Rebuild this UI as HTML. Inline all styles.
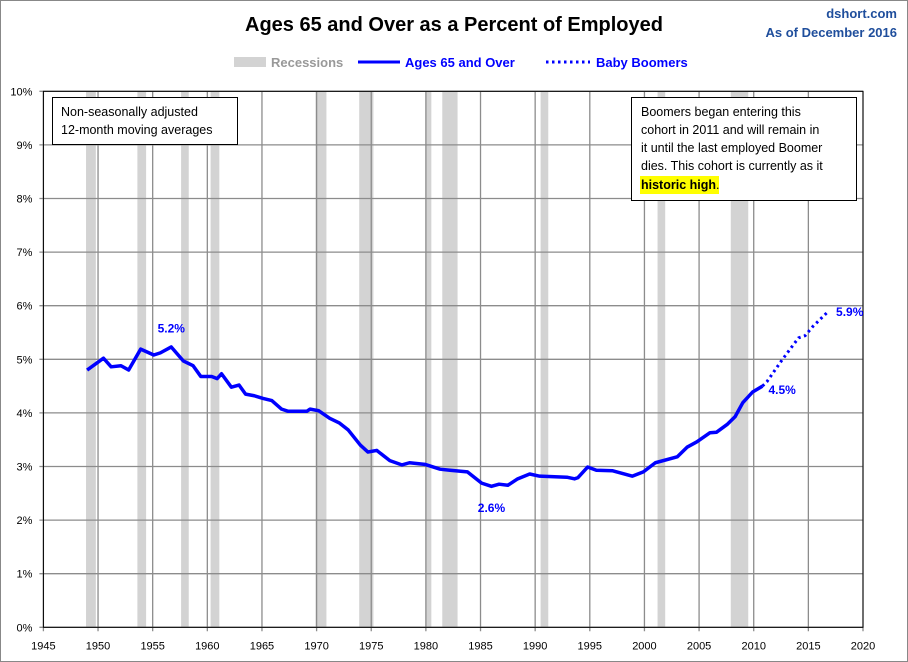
<!DOCTYPE html>
<html><head><meta charset="utf-8"><style>
body{margin:0;background:#fff;}
svg{display:block;font-family:"Liberation Sans",sans-serif;}
</style></head><body>
<svg id="chart" width="908" height="662">
<rect x="0.5" y="0.5" width="907" height="661" fill="#fff" stroke="#888"/>
<text x="454" y="31" text-anchor="middle" font-size="20" font-weight="bold" fill="#000">Ages 65 and Over as a Percent of Employed</text>
<text x="897" y="18" text-anchor="end" font-size="13" font-weight="bold" fill="#1f4e9c">dshort.com</text>
<text x="897" y="37" text-anchor="end" font-size="13" font-weight="bold" fill="#1f4e9c">As of December 2016</text>
<g>
<rect x="234" y="57" width="32" height="10" fill="#d3d3d3"/>
<text x="271" y="67" font-size="13" font-weight="bold" fill="#999">Recessions</text>
<line x1="358" y1="62" x2="400" y2="62" stroke="#00f" stroke-width="3"/>
<text x="405" y="67" font-size="13" font-weight="bold" fill="#00f">Ages 65 and Over</text>
<line x1="546" y1="62" x2="590" y2="62" stroke="#00f" stroke-width="3" stroke-dasharray="2.5,3.5"/>
<text x="596" y="67" font-size="13" font-weight="bold" fill="#00f">Baby Boomers</text>
</g>
<g id="rec"></g><g id="grid"></g><g id="axes"></g><g id="lines"></g>
<g>
<rect x="52.5" y="97.5" width="185" height="47" fill="#fff" stroke="#000"/>
<text x="61" y="116" font-size="12.5">Non-seasonally adjusted</text>
<text x="61" y="134" font-size="12.5">12-month moving averages</text>
</g>
<g>
<rect x="631.5" y="97.5" width="225" height="103" fill="#fff" stroke="#000"/>
<text x="641" y="116" font-size="12.5">Boomers began entering this</text>
<text x="641" y="134" font-size="12.5">cohort in 2011  and will remain in</text>
<text x="641" y="152" font-size="12.5">it until the last employed Boomer</text>
<text x="641" y="170" font-size="12.5">dies. This cohort is currently as it</text>
<rect x="640" y="176" width="79" height="18" fill="#ffff00"/>
<text x="641" y="189" font-size="12.5" font-weight="bold">historic high<tspan font-weight="normal">.</tspan></text>
</g>
</svg>
<script>
const years65=[1949.0,1950.5,1951.2,1952.1,1952.8,1953.9,1955.1,1955.7,1956.7,1957.8,1958.7,1959.4,1960.4,1960.9,1961.3,1962.2,1962.9,1963.5,1964.3,1965.1,1965.9,1966.8,1967.4,1969.1,1969.4,1970.2,1971.2,1972.1,1972.9,1974.0,1974.7,1975.5,1976.7,1977.8,1978.5,1979.9,1981.3,1982.2,1983.8,1985.1,1986.0,1986.7,1987.5,1988.4,1989.5,1990.4,1992.9,1993.6,1993.9,1994.8,1995.6,1997.1,1998.9,1999.9,2001.0,2003.0,2003.9,2004.8,2006.0,2006.6,2007.6,2008.3,2009.0,2009.9,2010.8];
const values65=[4.80,5.02,4.86,4.88,4.80,5.19,5.08,5.12,5.23,4.97,4.88,4.68,4.68,4.64,4.73,4.48,4.52,4.35,4.32,4.27,4.23,4.07,4.03,4.03,4.07,4.04,3.90,3.81,3.68,3.40,3.27,3.30,3.11,3.03,3.07,3.04,2.95,2.93,2.90,2.69,2.63,2.67,2.65,2.77,2.86,2.82,2.80,2.77,2.79,2.99,2.93,2.92,2.82,2.90,3.07,3.18,3.36,3.46,3.63,3.64,3.79,3.93,4.19,4.39,4.50];
const yearsBoom=[2010.8,2011.2,2012.6,2014.1,2014.7,2015.4,2016.8];
const valuesBoom=[4.50,4.58,4.99,5.40,5.44,5.61,5.89];
const recStart=[1948.9,1953.6,1957.6,1960.3,1969.9,1973.9,1980.0,1981.5,1990.5,2001.2,2007.9];
const recEnd=[1949.8,1954.4,1958.3,1961.1,1970.9,1975.2,1980.5,1982.9,1991.2,2001.9,2009.5];
const xTicks=[1945,1950,1955,1960,1965,1970,1975,1980,1985,1990,1995,2000,2005,2010,2015,2020];
const yTicks=[0,1,2,3,4,5,6,7,8,9,10];
const annYears=[1956.7,1986.0,2010.8,2016.8];
const annVals=[5.2,2.6,4.5,5.9];
const annLabels=["5.2%","2.6%","4.5%","5.9%"];

const L=43.4,R=863,T=91.3,B=627.3;
const X=y=>L+(y-1945)/75*(R-L);
const Y=v=>B-v/10*(B-T);
const NS="http://www.w3.org/2000/svg";
function mk(tag,attrs,parent){const e=document.createElementNS(NS,tag);for(const k in attrs)e.setAttribute(k,attrs[k]);document.getElementById(parent).appendChild(e);return e;}

recStart.forEach((s,i)=>{
  const r=mk('rect',{x:X(s),y:T,width:X(recEnd[i])-X(s),height:B-T,fill:'#d3d3d3'},'rec');
  
  
});
xTicks.forEach(t=>{
  const g=mk('line',{x1:X(t),x2:X(t),y1:T,y2:B+4,stroke:'#8c8c8c','stroke-width':1.3},'grid');
  
  
  const tx=mk('text',{x:X(t),y:B+22,'text-anchor':'middle','font-size':11,fill:'#000'},'axes');
  tx.textContent=t;
  
  
});
yTicks.forEach(t=>{
  const g=mk('line',{x1:L-4,x2:R,y1:Y(t),y2:Y(t),stroke:'#8c8c8c','stroke-width':1.3},'grid');
  
  
  const tx=mk('text',{x:L-11,y:Y(t)+4,'text-anchor':'end','font-size':11,fill:'#000'},'axes');
  tx.textContent=t+'%';
  
  
});
const box=mk('rect',{x:L,y:T,width:R-L,height:B-T,fill:'none',stroke:'#000','stroke-width':1},'axes');



const p1=mk('polyline',{points:years65.map((y,i)=>X(y)+','+Y(values65[i])).join(' '),fill:'none',stroke:'#0000ff','stroke-width':3.5,'stroke-linejoin':'round'},'lines');


const p2=mk('polyline',{points:yearsBoom.map((y,i)=>X(y)+','+Y(valuesBoom[i])).join(' '),fill:'none',stroke:'#0000ff','stroke-width':3,'stroke-dasharray':'2.5,3.5'},'lines');



const off=[[0,-16,'middle'],[0,24,'middle'],[6,8,'start'],[8,5,'start']];
annYears.forEach((y,i)=>{
  const tx=mk('text',{x:X(y)+off[i][0],y:Y(annVals[i])+off[i][1],'text-anchor':off[i][2],'font-size':12,'font-weight':'bold',fill:'#0000ff'},'lines');
  tx.textContent=annLabels[i];
  
  
});
</script>
</body></html>
